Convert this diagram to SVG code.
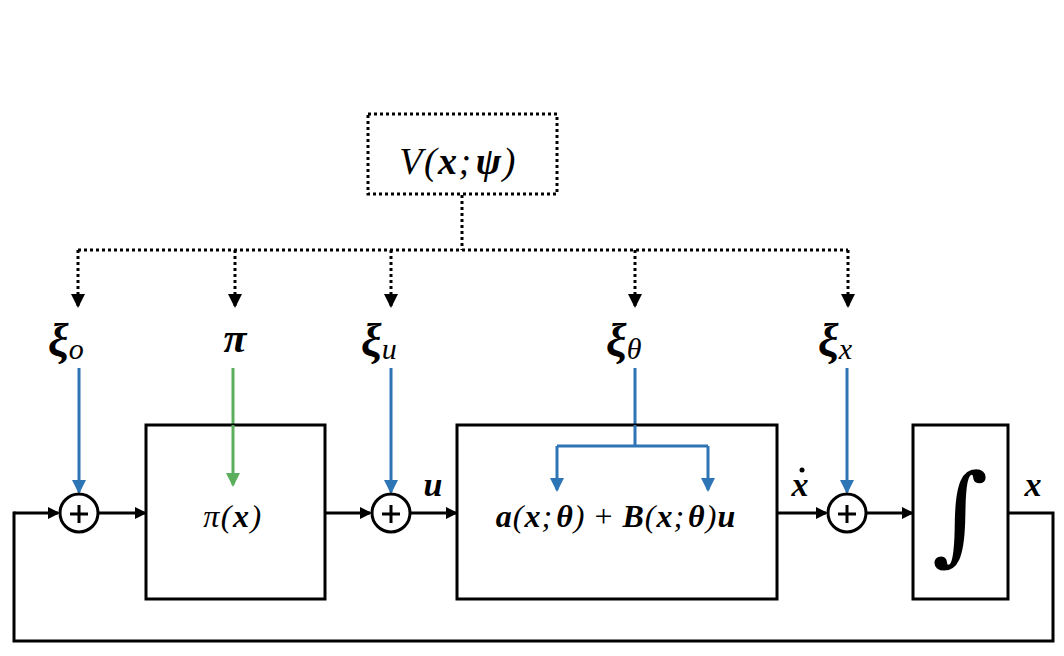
<svg xmlns="http://www.w3.org/2000/svg" width="1064" height="656" viewBox="0 0 1064 656">
<defs>
<style>
.box{fill:#fff;stroke:#000;stroke-width:3}
.dot{fill:none;stroke:#000;stroke-width:3;stroke-dasharray:3 3}
.ln{fill:none;stroke:#000;stroke-width:3}
.bl{fill:none;stroke:#2E75B6;stroke-width:3}
.gr{fill:none;stroke:#5BAE5B;stroke-width:3}
.m{font-family:"Liberation Serif","DejaVu Serif",serif;font-style:italic;fill:#000}
.b{font-weight:bold}
</style>
<marker id="ak" markerWidth="12" markerHeight="12" refX="10" refY="6" orient="auto" markerUnits="userSpaceOnUse"><path d="M0,0 L12,6 L0,12 z" fill="#000"/></marker>
<marker id="ab" markerWidth="14" markerHeight="14" refX="12" refY="7" orient="auto" markerUnits="userSpaceOnUse"><path d="M0,0 L14,7 L0,14 z" fill="#2E75B6"/></marker>
<marker id="ag" markerWidth="14" markerHeight="14" refX="12" refY="7" orient="auto" markerUnits="userSpaceOnUse"><path d="M0,0 L14,7 L0,14 z" fill="#5BAE5B"/></marker>
<marker id="ad" markerWidth="14" markerHeight="14" refX="12" refY="7" orient="auto" markerUnits="userSpaceOnUse"><path d="M0,0 L14,7 L0,14 z" fill="#000"/></marker>
</defs>

<g id="connectors">
<path class="dot" d="M462,195 V250"/>
<path class="dot" d="M78,250 H848"/>
<path class="dot" d="M78,250 V306" marker-end="url(#ad)"/>
<path class="dot" d="M235,250 V306" marker-end="url(#ad)"/>
<path class="dot" d="M391,250 V306" marker-end="url(#ad)"/>
<path class="dot" d="M635,250 V306" marker-end="url(#ad)"/>
<path class="dot" d="M848,250 V306" marker-end="url(#ad)"/>

<path class="bl" d="M79,368 V492" marker-end="url(#ab)"/>
<path class="gr" d="M233,368 V485" marker-end="url(#ag)"/>
<path class="bl" d="M391,368 V492" marker-end="url(#ab)"/>
<path class="bl" d="M635,368 V446 M557,446 H708"/>
<path class="bl" d="M557,446 V490" marker-end="url(#ab)"/>
<path class="bl" d="M708,446 V490" marker-end="url(#ab)"/>
<path class="bl" d="M847,368 V492" marker-end="url(#ab)"/>

<path class="ln" d="M14,513 H58" marker-end="url(#ak)"/>
<path class="ln" d="M99,513 H145" marker-end="url(#ak)"/>
<path class="ln" d="M325,513 H370" marker-end="url(#ak)"/>
<path class="ln" d="M411,513 H456" marker-end="url(#ak)"/>
<path class="ln" d="M777,513 H826" marker-end="url(#ak)"/>
<path class="ln" d="M867,513 H912" marker-end="url(#ak)"/>
<path class="ln" d="M1008,513 H1053 V641 H14 V511.5"/>
</g>

<g id="node-V">
<rect class="dot" x="368" y="114" width="189" height="80"/>
<text class="m" x="458" y="174" font-size="38" letter-spacing="1.5" text-anchor="middle">V(<tspan class="b">x</tspan>;<tspan class="b" dx="3">ψ</tspan>)</text>
</g>

<g id="label-xi-o"><text class="m b" x="48" y="356" font-size="46">ξ<tspan font-size="30" font-weight="normal" dy="3">o</tspan></text></g>
<g id="label-pi"><text class="m b" x="235" y="352" font-size="42" text-anchor="middle">π</text></g>
<g id="label-xi-u"><text class="m b" x="361" y="356" font-size="46">ξ<tspan font-size="30" font-weight="normal" dy="3">u</tspan></text></g>
<g id="label-xi-theta"><text class="m b" x="606" y="356" font-size="46">ξ<tspan font-size="30" font-weight="normal" dy="3">θ</tspan></text></g>
<g id="label-xi-x"><text class="m b" x="818" y="356" font-size="46">ξ<tspan font-size="30" font-weight="normal" dy="3">x</tspan></text></g>

<g id="sum1"><circle class="box" cx="79" cy="513" r="19"/><path class="ln" d="M70,514 H88 M79,505 V523"/></g>
<g id="sum2"><circle class="box" cx="391" cy="513" r="19"/><path class="ln" d="M382,514 H400 M391,505 V523"/></g>
<g id="sum3"><circle class="box" cx="847" cy="513" r="19"/><path class="ln" d="M838,514 H856 M847,505 V523"/></g>

<g id="node-policy">
<rect class="box" x="146" y="425" width="179" height="174"/>
<path class="gr" d="M233,425 V485" marker-end="url(#ag)"/>
<text class="m" x="233" y="527" font-size="32" letter-spacing="1.5" text-anchor="middle">π(<tspan class="b">x</tspan>)</text>
</g>

<g id="node-dynamics">
<rect class="box" x="457" y="425" width="320" height="174"/>
<path class="bl" d="M635,425 V446 M557,446 H708"/>
<path class="bl" d="M557,446 V490" marker-end="url(#ab)"/>
<path class="bl" d="M708,446 V490" marker-end="url(#ab)"/>
<text class="m" x="616" y="527" font-size="32" letter-spacing="1" text-anchor="middle"><tspan class="b">a</tspan>(<tspan class="b">x</tspan>;<tspan class="b" dx="3">θ</tspan>) <tspan font-style="normal">+</tspan> <tspan class="b">B</tspan>(<tspan class="b">x</tspan>;<tspan class="b" dx="3">θ</tspan>)<tspan class="b">u</tspan></text>
</g>

<g id="node-integrator">
<rect class="box" x="913" y="425" width="95" height="174"/>
<text x="960" y="551" font-family="DejaVu Serif,serif" font-style="italic" font-size="108" text-anchor="middle">∫</text>
</g>

<g id="edge-labels">
<text class="m b" x="433" y="496" font-size="34" text-anchor="middle">u</text>
<text class="m b" x="800" y="496" font-size="34" text-anchor="middle">x</text>
<circle cx="802" cy="470" r="2.5" fill="#000"/>
<text class="m b" x="1033" y="496" font-size="34" text-anchor="middle">x</text>
</g>
</svg>
